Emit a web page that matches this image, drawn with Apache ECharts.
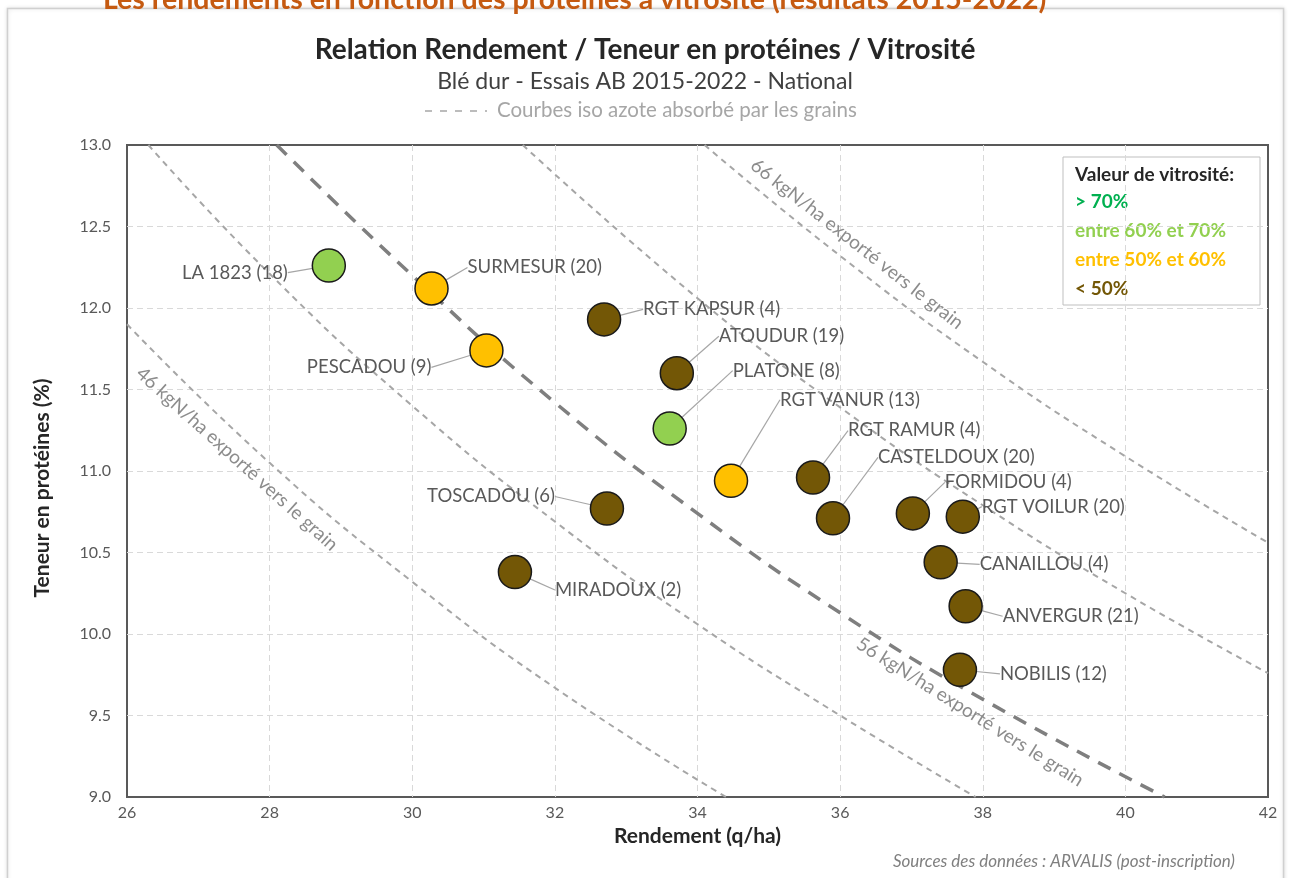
<!DOCTYPE html>
<html>
<head>
<meta charset="utf-8">
<script src="https://cdn.jsdelivr.net/npm/echarts@6/dist/echarts.min.js"></script>
<style>
  html, body { margin: 0; padding: 0; background: #fff; }
  #chart { width: 1290px; height: 878px; }
</style>
</head>
<body>
<div id="chart"></div>
<script>
// variétés (nombre d'essais entre parenthèses)
const varietes = ['LA 1823 (18)', 'SURMESUR (20)', 'RGT KAPSUR (4)', 'PESCADOU (9)', 'ATOUDUR (19)',
  'PLATONE (8)', 'RGT VANUR (13)', 'RGT RAMUR (4)', 'CASTELDOUX (20)', 'FORMIDOU (4)',
  'RGT VOILUR (20)', 'CANAILLOU (4)', 'ANVERGUR (21)', 'NOBILIS (12)', 'TOSCADOU (6)', 'MIRADOUX (2)']
const rendement = [28.83, 30.27, 32.69, 31.04, 33.71, 33.61, 34.47, 35.62, 35.9, 37.02,
  37.72, 37.41, 37.76, 37.68, 32.73, 31.44]
const proteines = [12.26, 12.12, 11.93, 11.74, 11.6, 11.26, 10.94, 10.96, 10.71, 10.74,
  10.72, 10.44, 10.17, 9.78, 10.77, 10.38]
// classe de vitrosité
const vitrosite = ['60-70', '50-60', '<50', '50-60', '<50', '60-70', '50-60', '<50', '<50', '<50',
  '<50', '<50', '<50', '<50', '<50', '<50']

const classes = ['>70', '60-70', '50-60', '<50']
const classLabels = ['> 70%', 'entre 60% et 70%', 'entre 50% et 60%', '< 50%']

// courbes iso azote
const iso46 = [[26.0, 11.9], [28, 11.05], [30, 10.32], [32, 9.67], [34.4, 9.0]]
const iso51 = [[26.3, 13.0], [28, 12.21], [30, 11.4], [32, 10.69], [34, 10.06], [36, 9.5], [37.9, 9.0]]
const iso56 = [[28.1, 13.0], [30, 12.2], [32, 11.42], [34, 10.74], [36, 10.13], [38, 9.6], [40.55, 9.0]]
const iso61 = [[31.55, 13.0], [34, 12.06], [36, 11.39], [38, 10.79], [40, 10.25], [42, 9.76]]
const iso66 = [[34.1, 13.0], [36, 12.32], [38, 11.67], [40, 11.09], [42, 10.56]]

const xTicks = [26, 28, 30, 32, 34, 36, 38, 40, 42]
const yTicks = [9.0, 9.5, 10.0, 10.5, 11.0, 11.5, 12.0, 12.5, 13.0]

const FONT = 'Lato'
const colors = { '>70': '#00b050', '60-70': '#92d050', '50-60': '#ffc000', '<50': '#735706' }

// position des étiquettes par rapport au point
const labelPos = {
  'LA 1823 (18)': [-41, 7, 'right'],
  'SURMESUR (20)': [36, -21, 'left'],
  'RGT KAPSUR (4)': [39, -10, 'left'],
  'PESCADOU (9)': [-55, 17, 'right'],
  'ATOUDUR (19)': [42, -37, 'left'],
  'PLATONE (8)': [63, -58, 'left'],
  'RGT VANUR (13)': [49, -81, 'left'],
  'RGT RAMUR (4)': [35, -47, 'left'],
  'CASTELDOUX (20)': [45, -61, 'left'],
  'FORMIDOU (4)': [32, -31, 'left'],
  'RGT VOILUR (20)': [19, -10, 'left'],
  'CANAILLOU (4)': [39, 2, 'left'],
  'ANVERGUR (21)': [37, 10, 'left'],
  'NOBILIS (12)': [40, 4, 'left'],
  'TOSCADOU (6)': [-52, -12, 'right'],
  'MIRADOUX (2)': [40, 18, 'left']
}

function isoSeries (name, data, thick) {
  return {
    name: name,
    type: 'line',
    data: data,
    smooth: true,
    showSymbol: false,
    silent: true,
    z: 1,
    lineStyle: thick
      ? { color: '#7f7f7f', width: 3.5, type: [14, 10] }
      : { color: '#a6a6a6', width: 2, type: [6, 5] }
  }
}

const scatterSeries = classes.map(function (c) {
  const data = []
  varietes.forEach(function (v, i) {
    if (vitrosite[i] === c) data.push({ name: v, value: [rendement[i], proteines[i]] })
  })
  return {
    name: c,
    type: 'scatter',
    data: data,
    symbolSize: 33,
    z: 5,
    itemStyle: { color: colors[c], borderColor: '#1a1a1a', borderWidth: 1.5, opacity: 1 },
    label: {
      show: true,
      formatter: '{b}',
      fontFamily: FONT,
      fontSize: 18.5,
      color: '#595959'
    },
    labelLine: { show: true, lineStyle: { color: '#a6a6a6', width: 1.2 } },
    labelLayout: function (params) {
      const p = labelPos[params.text] || [20, 0, 'left']
      const cx = params.rect.x + params.rect.width / 2
      const cy = params.rect.y + params.rect.height / 2
      return { x: cx + p[0], y: cy + p[1], align: p[2], verticalAlign: 'middle', hideOverlap: false }
    }
  }
})

const chart = echarts.init(document.getElementById('chart'))

const legendLines = classLabels.map(function (t, i) {
  return {
    type: 'text',
    x: 12,
    y: 45 + i * 29,
    style: { text: t, fill: colors[classes[i]], font: 'bold 19px ' + FONT, textVerticalAlign: 'middle' }
  }
})

function curveLabel (text, x, y, deg) {
  return {
    type: 'text',
    x: x,
    y: y,
    rotation: -deg * Math.PI / 180,
    z: 3,
    style: { text: text, font: '19px ' + FONT, fill: '#8c8c8c', textAlign: 'center', textVerticalAlign: 'middle' }
  }
}

const option = {
  backgroundColor: '#fff',
  animation: false,
  title: {
    text: 'Relation Rendement / Teneur en protéines / Vitrosité',
    subtext: 'Blé dur - Essais AB 2015-2022 - National',
    left: 'center',
    top: 31,
    itemGap: 6,
    textStyle: { fontFamily: FONT, fontSize: 28, fontWeight: 'bold', color: '#262626' },
    subtextStyle: { fontFamily: FONT, fontSize: 23, color: '#404040' }
  },
  grid: {
    left: 127,
    right: 22,
    top: 145,
    bottom: 81,
    show: true,
    borderColor: '#595959',
    borderWidth: 2
  },
  xAxis: {
    type: 'value',
    min: xTicks[0],
    max: xTicks[xTicks.length - 1],
    interval: 2,
    name: 'Rendement (q/ha)',
    nameLocation: 'middle',
    nameGap: 25,
    nameTextStyle: { fontFamily: FONT, fontSize: 21, fontWeight: 'bold', color: '#262626' },
    axisLine: { show: false },
    axisTick: { show: false },
    axisLabel: { fontFamily: FONT, fontSize: 16, color: '#595959', margin: 8 },
    splitLine: { show: true, showMinLine: false, showMaxLine: false, lineStyle: { color: '#d9d9d9', type: [6, 4] } }
  },
  yAxis: {
    type: 'value',
    min: yTicks[0],
    max: yTicks[yTicks.length - 1],
    interval: 0.5,
    axisLine: { show: false },
    axisTick: { show: false },
    axisLabel: {
      fontFamily: FONT, fontSize: 16, color: '#595959', margin: 16,
      formatter: function (v) { return v.toFixed(1) }
    },
    splitLine: { show: true, showMinLine: false, showMaxLine: false, lineStyle: { color: '#d9d9d9', type: [6, 4] } }
  },
  series: [
    isoSeries('iso46', iso46, false),
    isoSeries('iso51', iso51, false),
    isoSeries('iso56', iso56, true),
    isoSeries('iso61', iso61, false),
    isoSeries('iso66', iso66, false)
  ].concat(scatterSeries),
  graphic: [
    {
      type: 'rect',
      silent: true,
      z: -10,
      shape: { x: 7.5, y: 8.5, width: 1276, height: 880 },
      style: { fill: '#fff', stroke: '#d0d0d0', lineWidth: 1.5, shadowBlur: 4, shadowColor: 'rgba(0,0,0,0.12)' }
    },
    {
      type: 'text',
      x: 103,
      y: 0,
      style: {
        text: 'Les rendements en fonction des protéines à vitrosité (résultats 2015-2022)',
        font: 'bold 28.5px ' + FONT,
        fill: '#c55a11',
        textVerticalAlign: 'middle'
      }
    },
    {
      type: 'line',
      shape: { x1: 425, y1: 111, x2: 487, y2: 111 },
      style: { stroke: '#a6a6a6', lineWidth: 1.5, lineDash: [7, 8] }
    },
    {
      type: 'text',
      x: 497,
      y: 110,
      style: { text: 'Courbes iso azote absorbé par les grains', font: '20.5px ' + FONT, fill: '#a6a6a6', textVerticalAlign: 'middle' }
    },
    {
      type: 'text',
      x: 42,
      y: 488,
      rotation: Math.PI / 2,
      style: { text: 'Teneur en protéines (%)', font: 'bold 21px ' + FONT, fill: '#262626', textAlign: 'center', textVerticalAlign: 'middle' }
    },
    {
      type: 'group',
      x: 1063,
      y: 157,
      z: 20,
      children: [
        {
          type: 'rect',
          shape: { x: 0, y: 0, width: 197, height: 148 },
          style: { fill: '#fff', stroke: '#bfbfbf', lineWidth: 1 }
        },
        {
          type: 'text',
          x: 12,
          y: 18,
          style: { text: 'Valeur de vitrosité:', fill: '#262626', font: 'bold 19px ' + FONT, textVerticalAlign: 'middle' }
        }
      ].concat(legendLines)
    },
    curveLabel('46 kgN/ha exporté vers le grain', 237, 459, 42),
    curveLabel('56 kgN/ha exporté vers le grain', 970, 712, 32),
    curveLabel('66 kgN/ha exporté vers le grain', 857, 244, 38),
    {
      type: 'text',
      x: 1235,
      y: 862,
      style: { text: 'Sources des données : ARVALIS (post-inscription)', font: 'italic 17px ' + FONT, fill: '#7f7f7f', textAlign: 'right', textVerticalAlign: 'middle' }
    }
  ]
}

chart.setOption(option)
</script>
</body>
</html>
